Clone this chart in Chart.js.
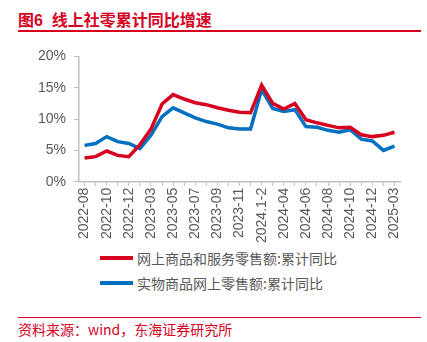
<!DOCTYPE html>
<html>
<head>
<meta charset="utf-8">
<script src="https://cdn.jsdelivr.net/npm/chart.js@4"></script>
<style>
  body { margin: 0; width: 427px; height: 342px; background: #fff; position: relative; overflow: hidden;
         font-family: "Liberation Sans", "Noto Sans CJK SC", sans-serif; }
  #title { position: absolute; left: 18px; top: 7px; font: bold 16px "Liberation Sans", "Noto Sans CJK SC"; color: #D7001F; white-space: pre; }
  #titleLine { position: absolute; left: 18px; top: 30px; width: 403px; height: 2px; background: #D7001F; }
  #wrap { position: absolute; left: 0; top: 40px; width: 427px; height: 205px; }
  #legend { position: absolute; left: 100px; top: 245px; }
  .item { height: 25px; display: flex; align-items: center; font: 14px "Noto Sans CJK SC"; color: #595959; }
  .swatch { width: 33px; height: 4px; margin-right: 4px; }
  #srcLine { position: absolute; left: 18px; top: 317px; width: 403px; height: 1px; background: #D7001F; }
  #source { position: absolute; left: 18px; top: 319px; font: 14px "Noto Sans CJK SC"; color: #D7001F; white-space: pre; }
</style>
</head>
<body>
<div id="title">图6  线上社零累计同比增速</div>
<div id="titleLine"></div>
<div id="wrap"><canvas id="lineChart"></canvas></div>
<div id="legend"></div>
<div id="srcLine"></div>
<div id="source">资料来源：wind，东海证券研究所</div>
<script>
// 月份（累计同比）
let months = [
    "2022-08", "2022-09", "2022-10", "2022-11", "2022-12",
    "2023-02", "2023-03", "2023-04", "2023-05", "2023-06", "2023-07",
    "2023-08", "2023-09", "2023-10", "2023-11", "2023-12",
    "2024.1-2", "2024-03", "2024-04", "2024-05", "2024-06", "2024-07",
    "2024-08", "2024-09", "2024-10", "2024-11", "2024-12",
    "2025-02", "2025-03"
];

// 网上商品和服务零售额:累计同比 (%)
let onlineAll = [3.8, 4.0, 4.9, 4.2, 4.0, 5.9, 8.4, 12.4, 13.9, 13.2, 12.6, 12.3, 11.8, 11.4, 11.1, 11.0,
                 15.4, 12.5, 11.6, 12.5, 9.9, 9.4, 9.0, 8.6, 8.7, 7.5, 7.2, 7.4, 7.9];

// 实物商品网上零售额:累计同比 (%)
let onlineGoods = [5.8, 6.1, 7.2, 6.4, 6.1, 5.3, 7.4, 10.4, 11.8, 11.0, 10.2, 9.6, 9.2, 8.6, 8.4, 8.4,
                   14.7, 11.7, 11.2, 11.5, 8.8, 8.7, 8.2, 7.9, 8.3, 6.8, 6.5, 5.0, 5.7];

let seriesNames = ["网上商品和服务零售额:累计同比", "实物商品网上零售额:累计同比"];
let seriesColors = ["#D7001F", "#0070C0"];

let ctx = document.getElementById("lineChart").getContext("2d");

let gray = "#595959";
let axisColor = "#BFBFBF";

let chart = new Chart(ctx, {
    type: "line",
    data: {
        labels: months,
        datasets: [
            { label: seriesNames[0], data: onlineAll, borderColor: seriesColors[0], backgroundColor: seriesColors[0],
              borderWidth: 3.5, pointRadius: 0, tension: 0, fill: false },
            { label: seriesNames[1], data: onlineGoods, borderColor: seriesColors[1], backgroundColor: seriesColors[1],
              borderWidth: 3.5, pointRadius: 0, tension: 0, fill: false }
        ]
    },
    options: {
        responsive: true,
        maintainAspectRatio: false,
        animation: false,
        layout: { padding: { left: 30, right: 27, top: 6, bottom: 0 } },
        plugins: { legend: { display: false }, tooltip: { enabled: false } },
        scales: {
            x: {
                offset: true,
                grid: { drawOnChartArea: false, color: axisColor, tickLength: 4 },
                border: { color: axisColor, width: 1.5 },
                ticks: {
                    autoSkip: false, maxRotation: 90, minRotation: 90, padding: 2,
                    color: gray, font: { family: "Liberation Sans", size: 14 },
                    callback: function (v, i) { return i % 2 === 0 ? months[i] : ""; }
                }
            },
            y: {
                min: 0, max: 20,
                grid: { drawOnChartArea: false, color: axisColor, tickLength: 5 },
                border: { color: axisColor, width: 1.5 },
                ticks: {
                    stepSize: 5, padding: 8, color: gray, font: { family: "Liberation Sans", size: 14 },
                    callback: function (v) { return v + "%"; }
                }
            }
        }
    }
});

// 图例
let legend = document.getElementById("legend");
seriesNames.forEach((name, i) => {
    let row = document.createElement("div");
    row.className = "item";
    row.innerHTML = '<span class="swatch" style="background:' + seriesColors[i] + '"></span>' + name;
    legend.appendChild(row);
});
</script>
</body>
</html>
